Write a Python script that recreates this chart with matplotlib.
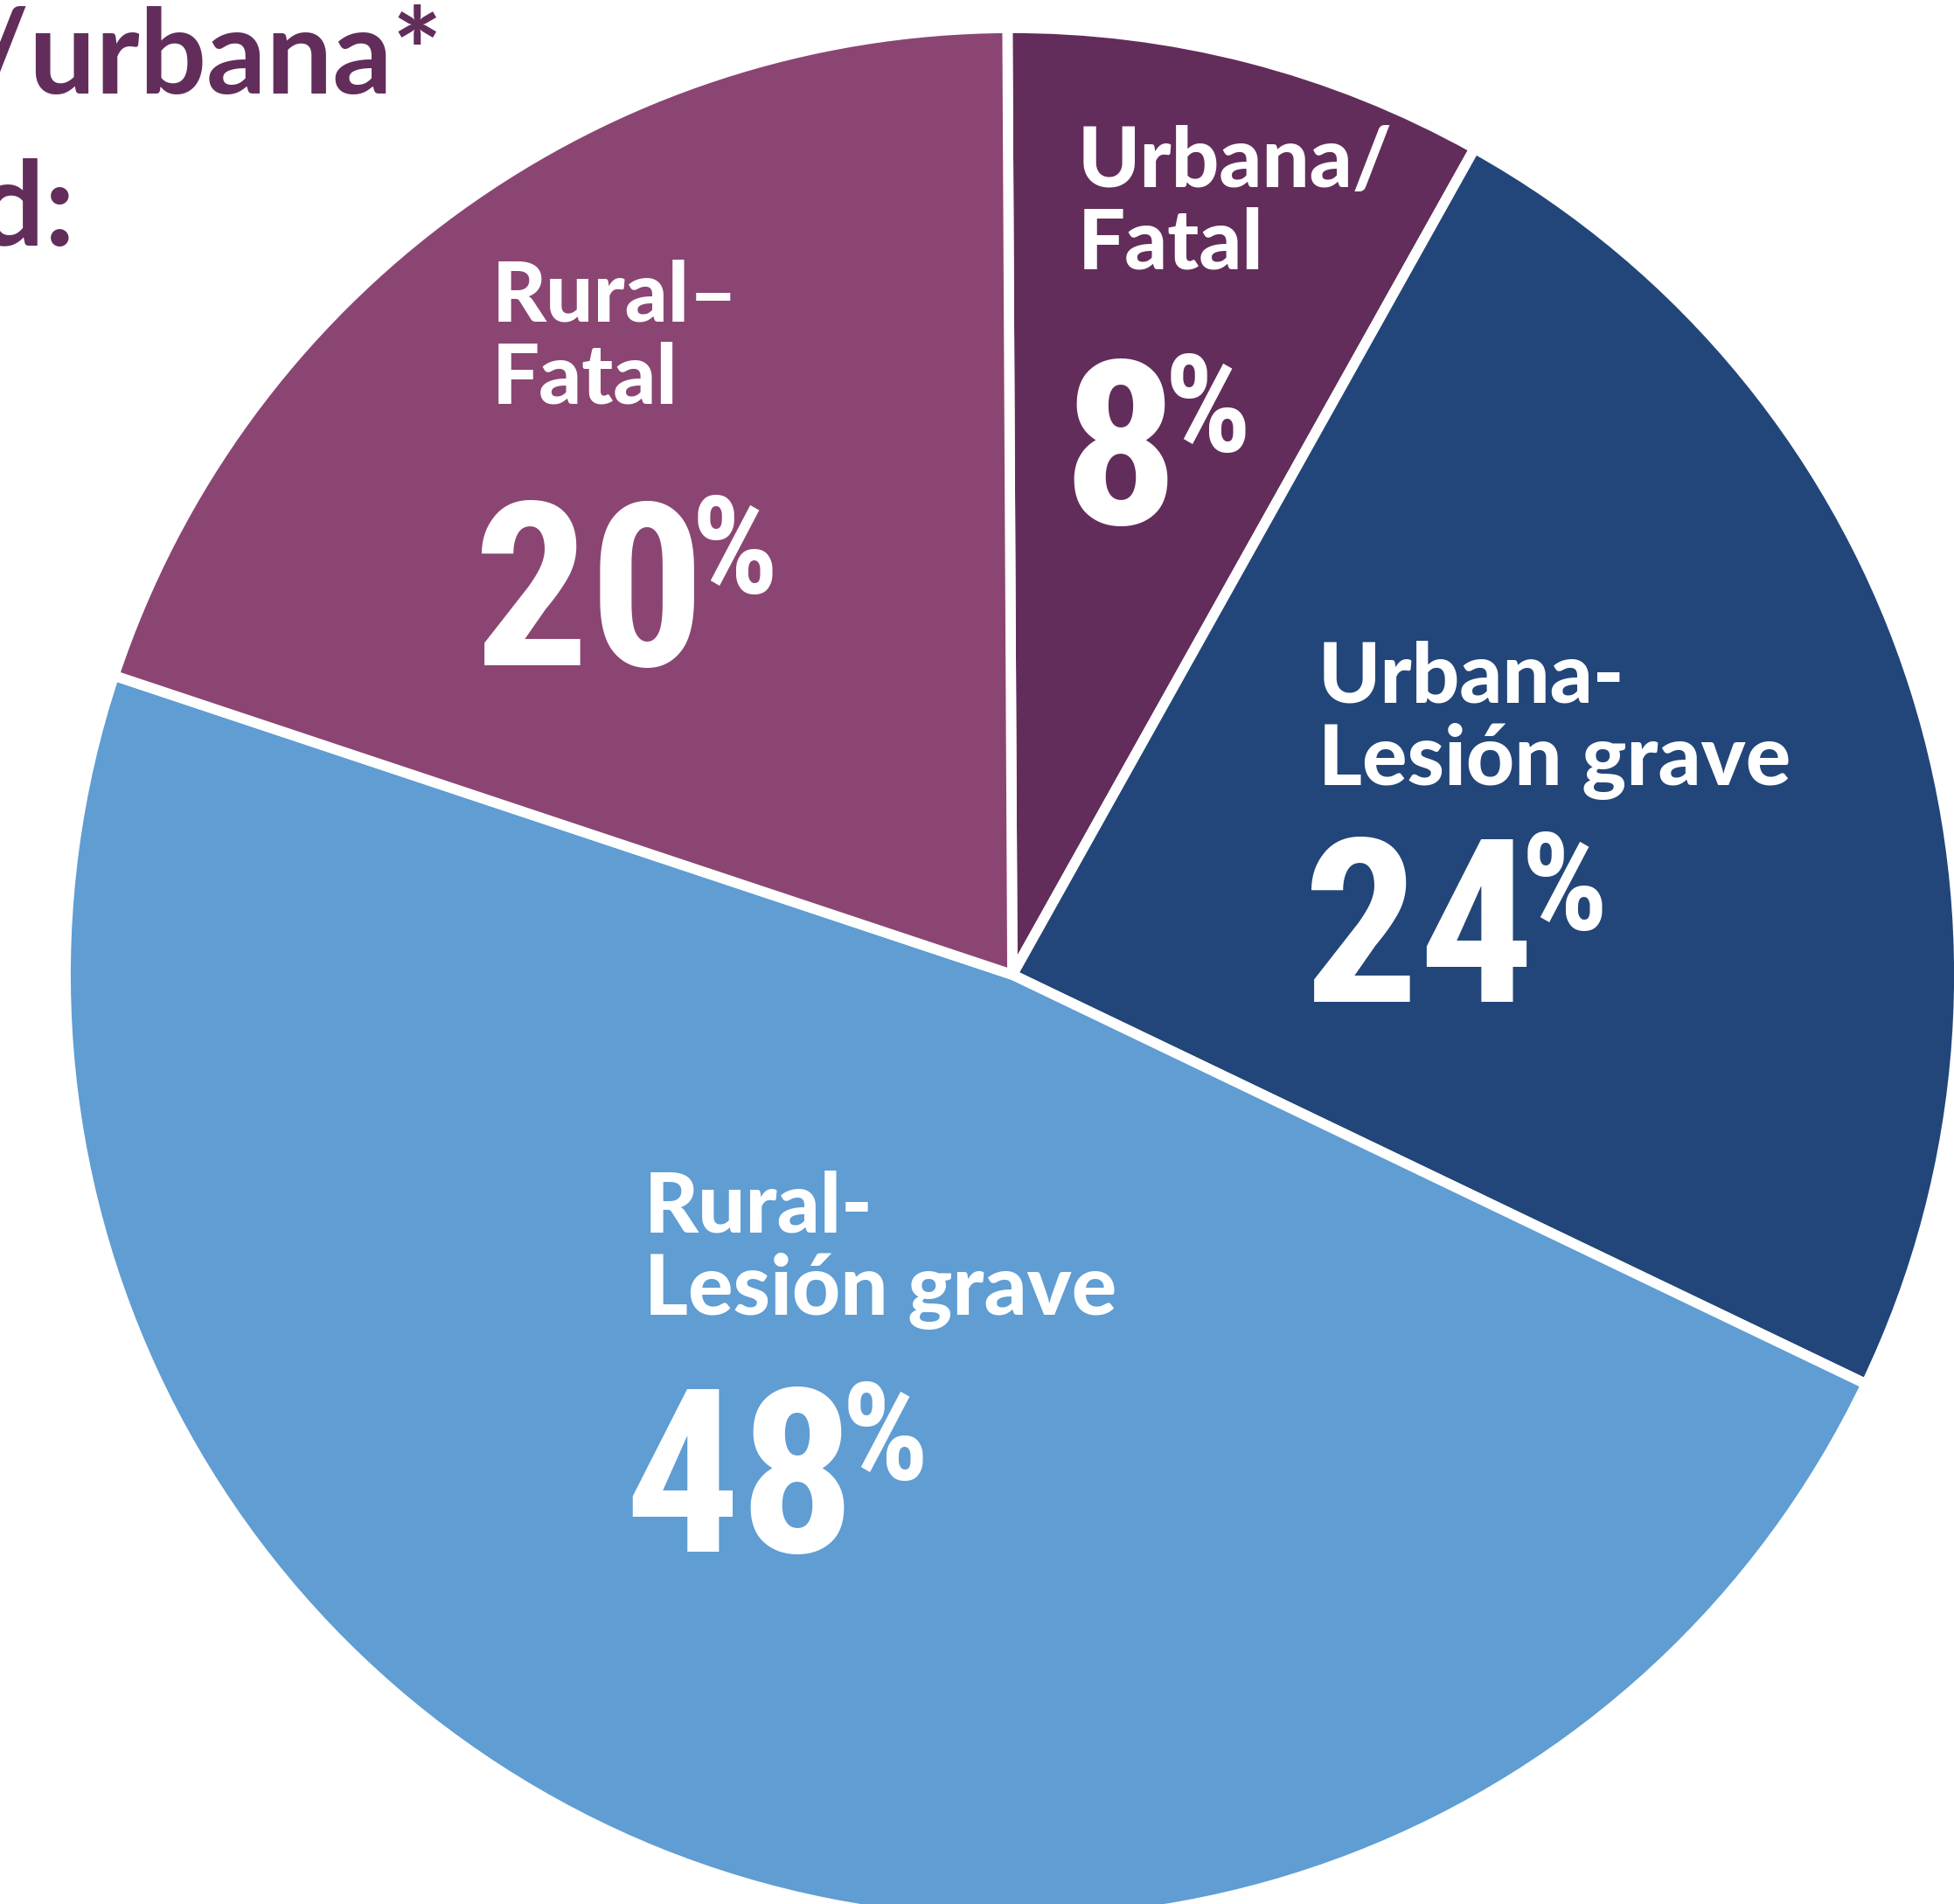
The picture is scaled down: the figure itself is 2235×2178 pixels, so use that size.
import matplotlib
matplotlib.use("Agg")
import matplotlib.pyplot as plt
from matplotlib import font_manager
from matplotlib.patches import Rectangle

# Data (shares; labels show them rounded)
labels = ["Urbana/\nFatal", "Urbana-\nLesión grave", "Rural-\nLesión grave", "Rural–\nFatal"]
values = [8.2, 24.0, 48.0, 19.8]
colors = ["#622D5B", "#224679", "#5F9DD3", "#8B4573"]
title_lines = ["Distribución rural/urbana*", "por gravedad:"]

W, H = 2235, 2178


def pick_condensed():
    names = {f.name for f in font_manager.fontManager.ttflist}
    for cand in ["Liberation Sans Narrow", "DejaVu Sans Condensed", "Roboto Condensed",
                 "Open Sans Condensed"]:
        if cand in names:
            return cand, "normal"
    return "DejaVu Sans", "condensed"


num_family, num_stretch = pick_condensed()

fig = plt.figure(figsize=(W / 100, H / 100), dpi=100)
ax = fig.add_axes([0, 0, 1, 1])

cx, cy, r = 1158, H - 1115, 1083
wedges, _ = ax.pie(values, colors=colors, startangle=90.3, counterclock=False,
                   center=(cx, cy), radius=r,
                   wedgeprops=dict(edgecolor="white", linewidth=8.5))
ax.set_xlim(0, W)
ax.set_ylim(0, H)
ax.set_aspect("equal")
ax.axis("off")

# the original pie is cut by a straight edge on the right
clip = Rectangle((0, 0), 2228, H, transform=ax.transData)
for w in wedges:
    w.set_clip_path(clip)

# label anchors (left x, baseline of 2nd line) and number anchors (left x, baseline), px from top
label_pos = [(1233, 308), (1508, 898), (737, 1504), (563, 462)]
num_pos = [(1215, 599), (1491, 1146), (714, 1775), (542, 761)]

for lab, val, (lx, ly), (nx, ny) in zip(labels, values, label_pos, num_pos):
    ax.text(lx, H - ly, lab, color="white", fontsize=69, fontweight="black",
            family=["Lato", "DejaVu Sans"], ha="left", va="baseline",
            linespacing=1.1)
    t = ax.text(nx, H - ny, f"{round(val)}", color="white", fontsize=188,
                fontweight="bold", family=num_family, fontstretch=num_stretch,
                ha="left", va="baseline")
    ax.annotate("%", xy=(1, 1), xycoords=t, xytext=(-11, 2), textcoords="offset points",
                color="white", fontsize=112, fontweight="bold", family=num_family,
                fontstretch=num_stretch, ha="left", va="top")

# title (cropped in the original, only its right end is visible)
ax.text(506, H - 107, title_lines[0], color="#622D5B", fontsize=97,
        fontweight="bold", family=["Lato", "DejaVu Sans"], ha="right", va="baseline")
ax.text(86, H - 281, title_lines[1], color="#622D5B", fontsize=97,
        fontweight="bold", family=["Lato", "DejaVu Sans"], ha="right", va="baseline")

fig.savefig("out.png", dpi=100)
